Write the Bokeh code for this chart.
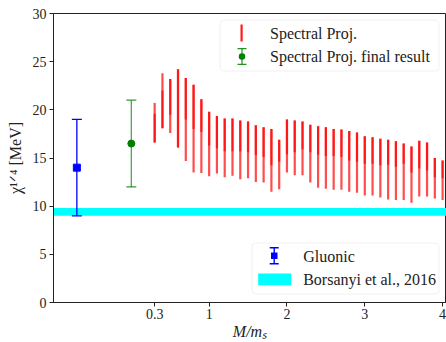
from bokeh.plotting import figure
from bokeh.models import FixedTicker, Label, BoxAnnotation, Range1d
from bokeh.embed import file_html
from bokeh.resources import INLINE

# ---------------- data ----------------
mass_ratio = [0.3, 0.4, 0.5, 0.6, 0.7, 0.8, 0.9, 1.0, 1.1, 1.2,
              1.3, 1.4, 1.5, 1.6, 1.7, 1.8, 1.9, 2.0, 2.1, 2.2,
              2.3, 2.4, 2.5, 2.6, 2.7, 2.8, 2.9, 3.0, 3.1, 3.2,
              3.3, 3.4, 3.5, 3.6, 3.7, 3.8, 3.9, 4.0]
# full (outer) range of each spectral-projection bar
spec_hi = [20.7, 23.8, 23.2, 24.2, 23.3, 22.6, 21.1, 19.8, 19.35, 19.1,
           19.1, 18.9, 18.8, 18.4, 18.2, 18.0, 16.9, 19.0, 18.9, 18.8,
           18.45, 18.3, 18.2, 18.0, 17.95, 17.8, 17.65, 17.25, 17.15, 17.0,
           16.9, 16.75, 16.5, 16.2, 16.8, 16.6, 15.0, 14.75]
spec_lo = [16.6, 18.1, 17.6, 16.1, 14.7, 13.5, 13.45, 13.1, 13.4, 13.0,
           13.15, 12.8, 12.9, 12.5, 12.45, 11.5, 11.75, 13.5, 13.2, 13.2,
           12.45, 11.9, 11.8, 11.7, 11.7, 11.5, 11.4, 11.1, 11.1, 10.9,
           10.7, 10.65, 10.65, 10.35, 11.0, 11.0, 10.8, 10.65]
# second (overlapping) range of each bar
spec2_hi = [19.6, 22.0, 23.2, 24.2, 23.3, 22.6, 21.1, 19.8, 19.35, 19.1,
            19.1, 18.9, 18.8, 18.4, 18.2, 18.0, 16.9, 19.0, 18.9, 18.8,
            18.45, 18.3, 18.2, 18.0, 17.95, 17.8, 17.65, 17.25, 17.15, 17.0,
            16.9, 16.75, 16.5, 16.2, 16.8, 16.6, 15.0, 14.75]
spec2_lo = [16.6, 18.1, 19.5, 16.1, 19.0, 18.0, 17.7, 16.3, 16.0, 15.7,
            15.7, 15.7, 15.6, 15.3, 15.1, 14.25, 14.6, 15.4, 15.6, 15.9,
            15.6, 15.35, 15.2, 15.2, 15.1, 14.75, 14.6, 14.4, 14.4, 14.25,
            14.3, 14.1, 14.4, 13.5, 13.9, 13.7, 13.0, 12.9]

gluonic_x = [-0.7]
gluonic_val = [14.0]
gluonic_lo = [9.0]
gluonic_hi = [19.0]

final_x = [0.0]
final_val = [16.5]
final_lo = [12.0]
final_hi = [21.0]

borsanyi_lo = 9.0
borsanyi_hi = 9.8

x_tick_vals = [0.3, 1, 2, 3, 4]
x_tick_labels = ["0.3", "1", "2", "3", "4"]
y_tick_vals = [0, 5, 10, 15, 20, 25, 30]

X_MIN, X_MAX = -1.0, 4.05
Y_MIN, Y_MAX = 0, 30

FONT = "Liberation Serif"
W, H = 446, 342
FL, FT, FB = 53, 13, 39  # frame borders (left, top, bottom)

p = figure(width=W, height=H, output_backend="svg", toolbar_location=None,
           x_range=Range1d(X_MIN, X_MAX), y_range=Range1d(Y_MIN, Y_MAX),
           min_border_left=FL, min_border_right=0, min_border_top=FT,
           min_border_bottom=FB)
p.grid.visible = False
p.background_fill_color = "white"
p.border_fill_color = "white"
p.outline_line_color = "#222222"
p.outline_line_width = 1

# band
p.hbar(y=[(borsanyi_lo + borsanyi_hi) / 2], height=[borsanyi_hi - borsanyi_lo],
       left=[X_MIN - 1], right=[X_MAX + 1], fill_color="cyan", line_color=None)

# spectral projection bars
p.segment(x0=mass_ratio, y0=spec_lo, x1=mass_ratio, y1=spec_hi,
          line_color="red", line_width=2.2, line_alpha=0.7)
p.segment(x0=mass_ratio, y0=spec2_lo, x1=mass_ratio, y1=spec2_hi,
          line_color="red", line_width=2.2, line_alpha=0.7)

# gluonic
p.segment(x0=gluonic_x, y0=gluonic_lo, x1=gluonic_x, y1=gluonic_hi,
          line_color="blue", line_width=1.3)
p.scatter(x=gluonic_x * 2, y=gluonic_lo + gluonic_hi, marker="dash", size=10,
          line_color="blue", line_width=1.3)
p.scatter(x=gluonic_x, y=gluonic_val, marker="square", size=7,
          fill_color="blue", line_color="blue")

# final result
p.segment(x0=final_x, y0=final_lo, x1=final_x, y1=final_hi,
          line_color="green", line_width=1.3, line_alpha=0.7)
p.scatter(x=final_x * 2, y=final_lo + final_hi, marker="dash", size=10,
          line_color="green", line_width=1.3, line_alpha=0.8)
p.scatter(x=final_x, y=final_val, marker="circle", size=7,
          fill_color="green", line_color="green")

# axes
p.xaxis.ticker = FixedTicker(ticks=x_tick_vals)
p.xaxis.major_label_overrides = {v: l for v, l in zip(x_tick_vals, x_tick_labels)}
p.yaxis.ticker = FixedTicker(ticks=y_tick_vals)
for ax in (p.xaxis, p.yaxis):
    ax.minor_tick_line_color = None
    ax.major_tick_out = 4
    ax.major_tick_in = 0
    ax.axis_line_color = "#222222"
    ax.major_tick_line_color = "#222222"
    ax.major_label_text_font = FONT
    ax.major_label_text_font_size = "14px"
    ax.major_label_text_color = "#222222"
    ax.axis_label_text_font = FONT
    ax.axis_label_text_font_size = "16px"
    ax.axis_label_text_color = "#222222"
p.xaxis.major_label_standoff = 2
p.yaxis.major_label_standoff = 3
p.xaxis.axis_label = "M/mₛ"
p.xaxis.axis_label_text_font_style = "italic"
p.xaxis.axis_label_standoff = 1
p.yaxis.axis_label = "χ¹ᐟ⁴ [MeV]"
p.yaxis.axis_label_text_font_style = "normal"
p.yaxis.axis_label_standoff = 6

# ---------------- hand-made legends (screen units) ----------------
FRAME_BOTTOM = H - FB


def box(l, r, t, b, fill_alpha=1.0, **kw):
    """box given in canvas pixel coordinates"""
    ba = BoxAnnotation(left=l - FL, right=r - FL, top=FRAME_BOTTOM - t,
                       bottom=FRAME_BOTTOM - b, left_units="screen",
                       right_units="screen", top_units="screen",
                       bottom_units="screen", fill_alpha=fill_alpha, **kw)
    p.add_layout(ba)
    return ba


def text(x, y, s):
    p.add_layout(Label(x=x - FL, y=FRAME_BOTTOM - y, x_units="screen",
                       y_units="screen", text=s, text_font=FONT,
                       text_font_size="16px", text_color="#222222",
                       text_baseline="middle", text_align="left"))


# legend 1 (upper)
box(219.5, 438.5, 20.5, 71.5, fill_color="white", fill_alpha=0.85,
    line_color="#d0d0d0", line_width=1, border_radius=4)
box(240, 242.2, 25, 42, fill_color="red", fill_alpha=0.9, line_color=None)
box(240.8, 242.2, 49, 65, fill_color="green", fill_alpha=0.75, line_color=None)
box(237, 246, 48.4, 49.7, fill_color="green", fill_alpha=0.85, line_color=None)
box(237, 246, 64.2, 65.5, fill_color="green", fill_alpha=0.85, line_color=None)
box(238.3, 244.7, 53.8, 60.2, fill_color="green", line_color=None, border_radius=3)
text(269.5, 34, "Spectral Proj.")
text(269.5, 57, "Spectral Proj. final result")

# legend 2 (lower)
box(251.5, 438.5, 243.5, 294.5, fill_color="white", fill_alpha=0.85,
    line_color="#d0d0d0", line_width=1, border_radius=4)
box(273, 274.4, 248, 264.5, fill_color="blue", line_color=None)
box(269.2, 278.2, 247.6, 248.9, fill_color="blue", line_color=None)
box(269.2, 278.2, 263.6, 264.9, fill_color="blue", line_color=None)
box(270.5, 277, 253, 259.5, fill_color="blue", line_color=None)
box(257.7, 290.7, 274, 285.7, fill_color="cyan", line_color=None)
text(302.7, 256.5, "Gluonic")
text(302.7, 280, "Borsanyi et al., 2016")

open("out.html", "w").write(file_html(p, INLINE))
